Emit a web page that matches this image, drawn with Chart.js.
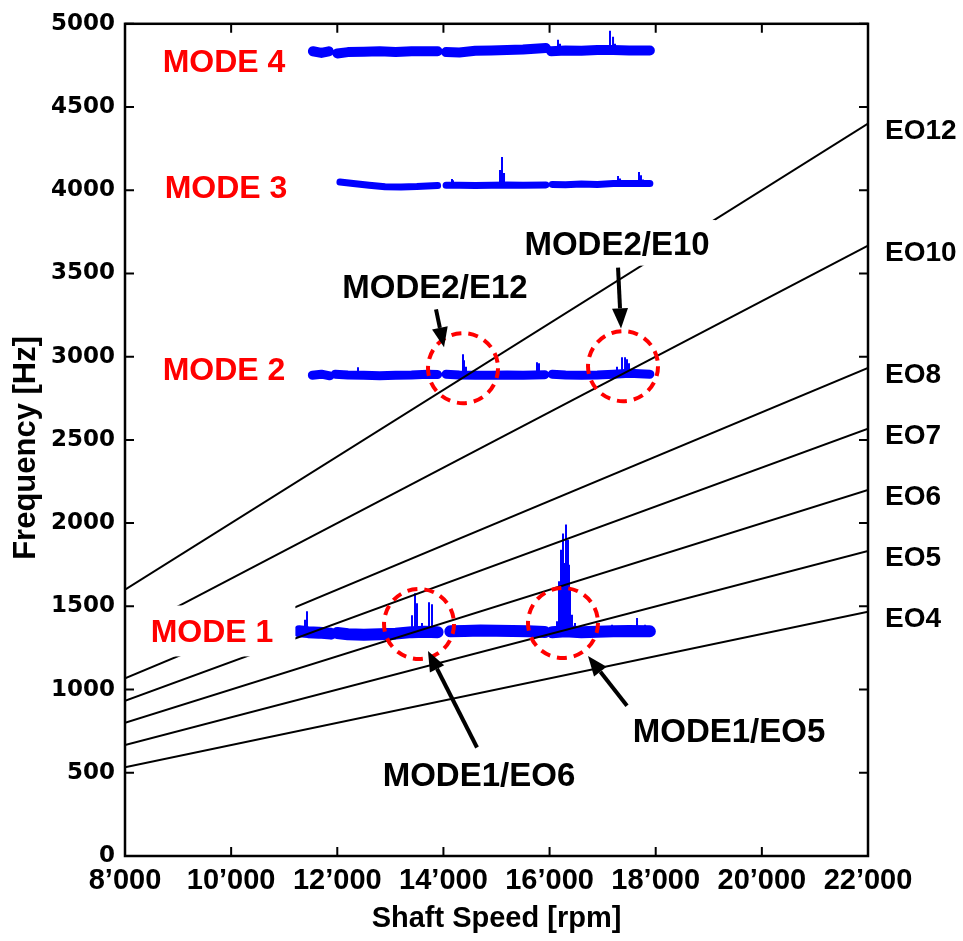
<!DOCTYPE html>
<html>
<head>
<meta charset="utf-8">
<script src="https://cdn.jsdelivr.net/npm/chart.js@4"></script>
<style>
  body { margin: 0; background: #fff; }
  canvas { display: block; }
</style>
</head>
<body>
<canvas id="campbell" width="963" height="941"></canvas>
<script>
// engine order lines, read at 8'000 and 22'000 rpm
const eoNames = ['EO4', 'EO5', 'EO6', 'EO7', 'EO8', 'EO10', 'EO12'];
const eoStartHz = [533, 667, 800, 933, 1067, 1333, 1600];
const eoEndHz = [1467, 1833, 2200, 2567, 2933, 3667, 4400];
const eoRpm = [8000, 22000];

// measured modes (null = gap in the sweep)
const mode1Rpm = [11280, 11450, 11650, 11880, 11880, 12000, 12200, 12500, 12800, 13100, 13400, 13650, 13890, 13890,
  14130, 14400, 14700, 15000, 15300, 15600, 15910, 15910, 16050, 16300, 16600, 16900, 17200, 17500, 17890];
const mode1Hz = [1350, 1345, 1342, 1336, null, 1340, 1332, 1330, 1332, 1336, 1345, 1348, 1345, null,
  1350, 1352, 1355, 1354, 1352, 1350, 1346, null, 1345, 1350, 1345, 1348, 1350, 1352, 1350];

const mode2Rpm = [11530, 11700, 11860, 11860, 11960, 12200, 12500, 12800, 13100, 13400, 13700, 13890, 13890,
  14050, 14300, 14600, 14900, 15200, 15500, 15910, 15910, 16050, 16300, 16600, 16900, 17200, 17500, 17890];
const mode2Hz = [2889, 2895, 2885, null, 2895, 2890, 2888, 2885, 2888, 2890, 2895, 2893, null,
  2895, 2890, 2888, 2888, 2890, 2888, 2892, null, 2895, 2890, 2888, 2890, 2895, 2900, 2895];

const mode3Rpm = [12050, 12300, 12600, 12900, 13200, 13500, 13890, 13890,
  14050, 14300, 14600, 14900, 15200, 15500, 15930, 15930, 16050, 16300, 16600, 16900, 17200, 17500, 17890];
const mode3Hz = [4049, 4040, 4030, 4021, 4020, 4022, 4028, null,
  4030, 4030, 4028, 4030, 4032, 4030, 4032, null, 4035, 4033, 4037, 4035, 4040, 4040, 4040];

const mode4Rpm = [11540, 11700, 11840, 11840, 12000, 12200, 12500, 12800, 13100, 13400, 13890, 13890,
  14050, 14300, 14600, 14900, 15200, 15500, 15930, 15930, 16030, 16300, 16600, 16900, 17200, 17500, 17890];
const mode4Hz = [4835, 4825, 4835, null, 4822, 4830, 4832, 4835, 4830, 4835, 4835, null,
  4830, 4828, 4838, 4840, 4842, 4845, 4855, null, 4835, 4840, 4838, 4842, 4842, 4840, 4840];

// resonance peaks
const modeBaseHz = [1345, 2890, 4030, 4838];
const mode1SpikeRpm = [11392, 11429, 13408, 13464, 13502, 13596, 13728, 13785, 14614, 15066, 15594,
  16140, 16178, 16215, 16234, 16253, 16272, 16291, 16310, 16328, 16347, 16366, 16385, 16423, 16479, 17177, 17648, 17799];
const mode1SpikeHz = [1420, 1471, 1447, 1579, 1519, 1400, 1525, 1513, 1380, 1375, 1372,
  1410, 1650, 1840, 1700, 1938, 1760, 1720, 1992, 1800, 1900, 1750, 1600, 1450, 1400, 1390, 1430, 1390];
const mode2SpikeRpm = [12390, 14369, 14388, 14425, 15763, 15801, 17271, 17365, 17422, 17459, 17497];
const mode2SpikeHz = [2937, 3014, 2978, 2940, 2967, 2960, 2940, 2997, 2997, 2985, 2960];
const mode3SpikeRpm = [14162, 14180, 15066, 15104, 15142, 17290, 17328, 17685, 17723, 17761];
const mode3SpikeHz = [4067, 4060, 4121, 4199, 4103, 4085, 4070, 4109, 4090, 4065];
const mode4SpikeRpm = [16159, 16197, 17139, 17196, 17233];
const mode4SpikeHz = [4904, 4880, 4958, 4922, 4880];

// annotations
const modeNames = ['MODE 1', 'MODE 2', 'MODE 3', 'MODE 4'];
const modeLabelRpm = [9640, 9865, 9903, 9865];
const modeLabelHz = [1352, 2931, 4025, 4779];
const noteText = ['MODE2/E12', 'MODE2/E10', 'MODE1/EO6', 'MODE1/EO5'];
const noteRpm = [13841, 17271, 14670, 19381];
const noteHz = [3421, 3684, 490, 754];
const circleRpm = [14369, 17384, 13540, 16253];
const circleHz = [2931, 2943, 1394, 1400];
const arrowTailRpm = [13860, 17290, 14633, 17459];
const arrowTailHz = [3284, 3535, 652, 903];
const arrowTipRpm = [14011, 17346, 13709, 16724];
const arrowTipHz = [3056, 3170, 1232, 1202];

const xTicks = [8000, 10000, 12000, 14000, 16000, 18000, 20000, 22000];

function series(rpm, hz) {
  return rpm.map((r, i) => ({x: r, y: hz[i]}));
}
function spikes(rpm, hz, base) {
  const out = [];
  rpm.forEach((r, i) => { out.push({x: r, y: base}, {x: r, y: hz[i]}, {x: r, y: null}); });
  return out;
}

const BLUE = '#0000ff';
const RED = '#ff0000';
const datasets = [];

eoNames.forEach((n, i) => {
  datasets.push({
    label: n, order: 0,
    data: [{x: eoRpm[0], y: eoStartHz[i]}, {x: eoRpm[1], y: eoEndHz[i]}],
    borderColor: '#000', borderWidth: 2
  });
});

const bands = [[mode1Rpm, mode1Hz, 12], [mode2Rpm, mode2Hz, 9], [mode3Rpm, mode3Hz, 7], [mode4Rpm, mode4Hz, 10]];
bands.forEach((b, i) => {
  datasets.push({
    label: modeNames[i], order: 2,
    data: series(b[0], b[1]),
    borderColor: BLUE, borderWidth: b[2],
    borderCapStyle: 'round', borderJoinStyle: 'round'
  });
});

const spk = [[mode1SpikeRpm, mode1SpikeHz], [mode2SpikeRpm, mode2SpikeHz], [mode3SpikeRpm, mode3SpikeHz], [mode4SpikeRpm, mode4SpikeHz]];
spk.forEach((s, i) => {
  datasets.push({
    label: modeNames[i] + ' peaks', order: 1,
    data: spikes(s[0], s[1], modeBaseHz[i]),
    borderColor: BLUE, borderWidth: 2
  });
});

const boldFont = (size, fam) => 'bold ' + size + 'px ' + (fam || '"Liberation Sans", Arial, sans-serif');

function boxedText(ctx, text, cx, cy, size, color, padL, padR, padT, padB) {
  ctx.font = boldFont(size);
  const w = ctx.measureText(text).width;
  const cap = size * 0.716;
  ctx.fillStyle = '#fff';
  ctx.fillRect(cx - w / 2 - padL, cy - cap / 2 - padT, w + padL + padR, cap + padT + padB);
  ctx.fillStyle = color;
  ctx.textAlign = 'center';
  ctx.textBaseline = 'alphabetic';
  ctx.fillText(text, cx, cy + cap / 2);
}

const annotations = {
  id: 'annotations',
  afterDatasetsDraw(chart) {
    const {ctx, chartArea: a, scales: {x, y}} = chart;
    ctx.save();

    modeNames.forEach((t, i) => {
      boxedText(ctx, t, x.getPixelForValue(modeLabelRpm[i]), y.getPixelForValue(modeLabelHz[i]), 32, RED, 30, 22, 14, 14);
    });
    noteText.forEach((t, i) => {
      boxedText(ctx, t, x.getPixelForValue(noteRpm[i]), y.getPixelForValue(noteHz[i]), 33, '#000', 6, 6, 11, 11);
    });

    // dashed circles
    ctx.strokeStyle = RED;
    ctx.lineWidth = 4;
    ctx.setLineDash([10, 7]);
    circleRpm.forEach((r, i) => {
      ctx.beginPath();
      ctx.ellipse(x.getPixelForValue(r), y.getPixelForValue(circleHz[i]), 35, 35, 0, 0, Math.PI * 2);
      ctx.stroke();
    });
    ctx.setLineDash([]);

    // arrows
    ctx.strokeStyle = '#000';
    ctx.fillStyle = '#000';
    ctx.lineWidth = 4;
    arrowTailRpm.forEach((r, i) => {
      const x0 = x.getPixelForValue(r), y0 = y.getPixelForValue(arrowTailHz[i]);
      const x1 = x.getPixelForValue(arrowTipRpm[i]), y1 = y.getPixelForValue(arrowTipHz[i]);
      const ang = Math.atan2(y1 - y0, x1 - x0);
      const len = 20, half = 8;
      const bx = x1 - len * Math.cos(ang), by = y1 - len * Math.sin(ang);
      ctx.beginPath();
      ctx.moveTo(x0, y0);
      ctx.lineTo(bx, by);
      ctx.stroke();
      ctx.beginPath();
      ctx.moveTo(x1, y1);
      ctx.lineTo(bx + half * Math.sin(ang), by - half * Math.cos(ang));
      ctx.lineTo(bx - half * Math.sin(ang), by + half * Math.cos(ang));
      ctx.closePath();
      ctx.fill();
    });

    // EO labels right of the axes
    ctx.font = boldFont(28);
    ctx.textAlign = 'left';
    ctx.textBaseline = 'alphabetic';
    eoNames.forEach((n, i) => {
      ctx.fillText(n, a.right + 17, y.getPixelForValue(eoEndHz[i]) + 15);
    });

    // box and inward ticks
    ctx.lineWidth = 2.5;
    ctx.strokeRect(a.left, a.top, a.right - a.left, a.bottom - a.top);
    ctx.lineWidth = 2;
    ctx.beginPath();
    xTicks.forEach(v => {
      const px = x.getPixelForValue(v);
      ctx.moveTo(px, a.bottom); ctx.lineTo(px, a.bottom - 9);
      ctx.moveTo(px, a.top); ctx.lineTo(px, a.top + 9);
    });
    for (let v = 0; v <= 5000; v += 500) {
      const py = y.getPixelForValue(v);
      ctx.moveTo(a.left, py); ctx.lineTo(a.left + 9, py);
      ctx.moveTo(a.right, py); ctx.lineTo(a.right - 9, py);
    }
    ctx.stroke();

    // axis titles
    ctx.font = boldFont(29);
    ctx.textAlign = 'center';
    ctx.fillText('Shaft Speed [rpm]', (a.left + a.right) / 2, 927);
    ctx.save();
    ctx.translate(35, (a.top + a.bottom) / 2 + 8);
    ctx.rotate(-Math.PI / 2);
    ctx.font = boldFont(31);
    ctx.fillText('Frequency [Hz]', 0, 0);
    ctx.restore();

    ctx.restore();
  }
};

new Chart(document.getElementById('campbell').getContext('2d'), {
  type: 'line',
  data: {datasets: datasets},
  options: {
    responsive: false,
    animation: false,
    spanGaps: false,
    layout: {padding: {left: 0, right: 95, top: 20, bottom: 0}},
    elements: {point: {radius: 0}, line: {tension: 0}},
    plugins: {legend: {display: false}, tooltip: {enabled: false}},
    scales: {
      x: {
        type: 'linear', min: 8000, max: 22000,
        afterFit: s => { s.height = 85; },
        afterBuildTicks: s => { s.ticks = xTicks.map(v => ({value: v})); },
        grid: {display: false, drawTicks: false},
        border: {display: false},
        ticks: {
          padding: 8, color: '#000', maxRotation: 0, autoSkip: false,
          font: {family: '"Liberation Sans", Arial, sans-serif', size: 29, weight: 'bold'},
          callback: v => String(v).replace(/(\d)(\d{3})$/, '$1\u2019$2')
        }
      },
      y: {
        min: 0, max: 5000,
        afterFit: s => { s.width = 125; },
        grid: {display: false, drawTicks: false},
        border: {display: false},
        ticks: {
          stepSize: 500, padding: 10, color: '#000',
          font: {family: '"DejaVu Sans", sans-serif', size: 23, weight: 'bold'},
          callback: v => String(v)
        }
      }
    }
  },
  plugins: [annotations]
});
</script>
</body>
</html>
